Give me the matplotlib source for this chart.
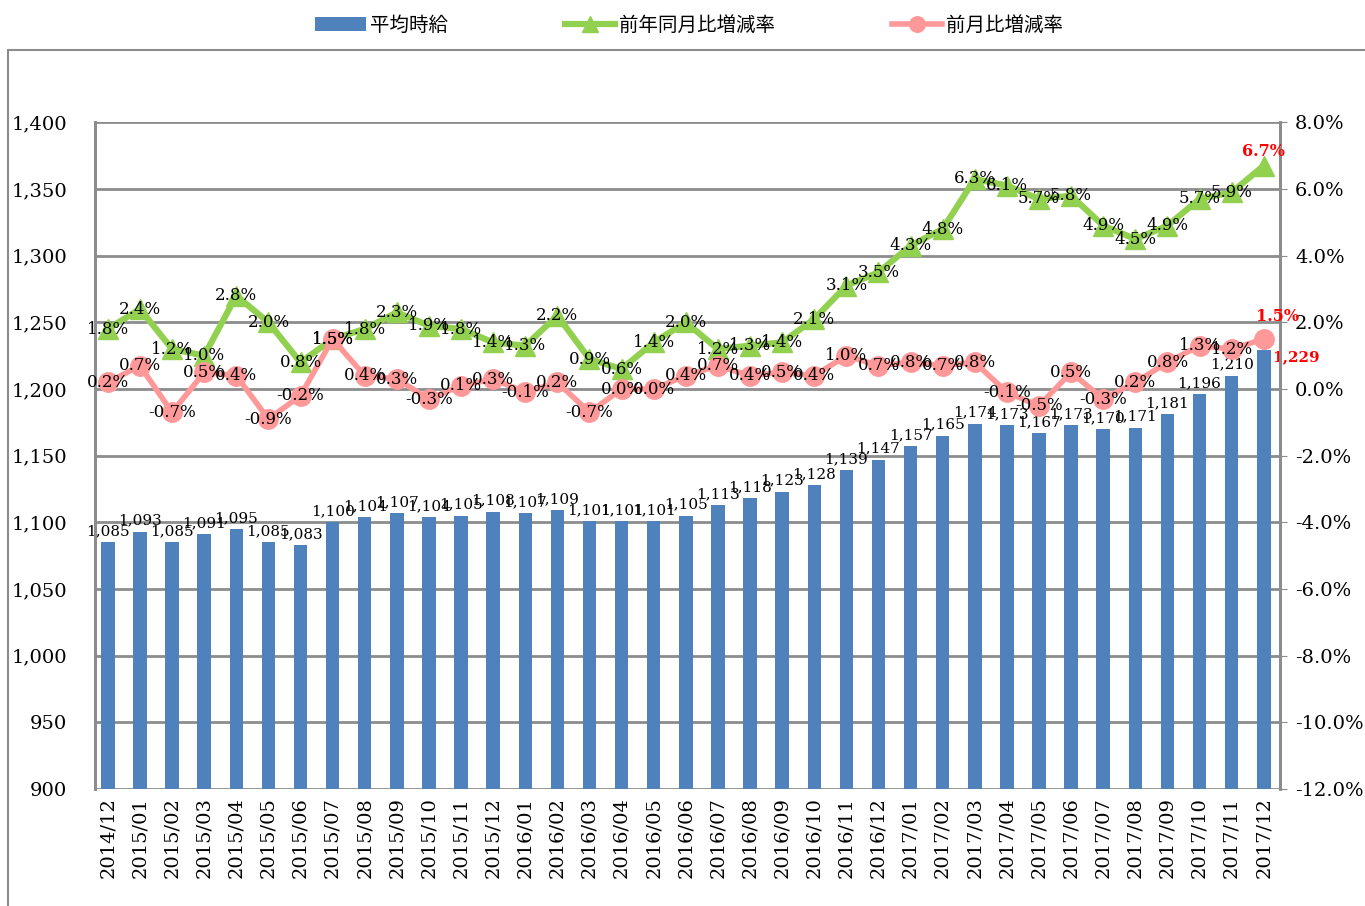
import matplotlib.pyplot as plt
from matplotlib.patches import Rectangle
from matplotlib.ticker import FuncFormatter, MultipleLocator

# data
months = [
    "2014/12", "2015/01", "2015/02", "2015/03", "2015/04", "2015/05", "2015/06",
    "2015/07", "2015/08", "2015/09", "2015/10", "2015/11", "2015/12", "2016/01",
    "2016/02", "2016/03", "2016/04", "2016/05", "2016/06", "2016/07", "2016/08",
    "2016/09", "2016/10", "2016/11", "2016/12", "2017/01", "2017/02", "2017/03",
    "2017/04", "2017/05", "2017/06", "2017/07", "2017/08", "2017/09", "2017/10",
    "2017/11", "2017/12",
]
wage = [
    1085, 1093, 1085, 1091, 1095, 1085, 1083, 1100, 1104, 1107, 1104, 1105, 1108,
    1107, 1109, 1101, 1101, 1101, 1105, 1113, 1118, 1123, 1128, 1139, 1147, 1157,
    1165, 1174, 1173, 1167, 1173, 1170, 1171, 1181, 1196, 1210, 1229,
]
yoy = [
    1.8, 2.4, 1.2, 1.0, 2.8, 2.0, 0.8, 1.5, 1.8, 2.3, 1.9, 1.8, 1.4, 1.3, 2.2,
    0.9, 0.6, 1.4, 2.0, 1.2, 1.3, 1.4, 2.1, 3.1, 3.5, 4.3, 4.8, 6.3, 6.1, 5.7,
    5.8, 4.9, 4.5, 4.9, 5.7, 5.9, 6.7,
]
mom = [
    0.2, 0.7, -0.7, 0.5, 0.4, -0.9, -0.2, 1.5, 0.4, 0.3, -0.3, 0.1, 0.3, -0.1,
    0.2, -0.7, 0.0, 0.0, 0.4, 0.7, 0.4, 0.5, 0.4, 1.0, 0.7, 0.8, 0.7, 0.8, -0.1,
    -0.5, 0.5, -0.3, 0.2, 0.8, 1.3, 1.2, 1.5,
]

BLUE = "#4F81BD"
GREEN = "#92D050"
PINK = "#FF9999"
GRID = "#8C8C8C"
NUM_FONT = ["DejaVu Serif"]
JP_FONT = ["Noto Sans CJK JP", "DejaVu Sans"]

plt.rcParams["font.family"] = NUM_FONT

fig = plt.figure(figsize=(13.65, 9.06), dpi=100)
ax = fig.add_axes([0.0696, 0.129, 0.868, 0.736])
ax2 = ax.twinx()

# outer chart frame
fig.patches.append(Rectangle((0.006, -0.01), 1.0, 0.955, transform=fig.transFigure,
                             fill=False, edgecolor=GRID, linewidth=1.5))

x = list(range(len(months)))
bars = ax.bar(x, wage, width=0.42, color=BLUE, zorder=2, label="平均時給")
ax.set_ylim(900, 1400)
ax.set_xlim(-0.4, len(months) - 0.5)
ax.yaxis.set_major_locator(MultipleLocator(50))
ax.yaxis.set_major_formatter(FuncFormatter(lambda v, p: f"{v:,.0f}"))
ax.grid(axis="y", color=GRID, linewidth=2, zorder=0)
ax.set_axisbelow(True)
ax.set_xticks(x)
ax.set_xticklabels(months, rotation=90, fontsize=14)
ax.tick_params(axis="y", labelsize=14, length=0, pad=20)
ax.tick_params(axis="x", length=0, pad=6)

(l1,) = ax2.plot(x, yoy, color=GREEN, linewidth=4.5, marker="^", markersize=15,
                 zorder=3, label="前年同月比増減率")
(l2,) = ax2.plot(x, mom, color=PINK, linewidth=4, marker="o", markersize=14,
                 zorder=4, label="前月比増減率")
ax2.set_ylim(-12, 8)
ax2.yaxis.set_major_locator(MultipleLocator(2))
ax2.yaxis.set_major_formatter(FuncFormatter(lambda v, p: f"{v:.1f}%"))
ax2.tick_params(axis="y", labelsize=14, length=5, color=GRID, pad=6)

for a in (ax, ax2):
    for side in ("top", "bottom"):
        a.spines[side].set_visible(False)
    a.spines["left"].set_color(GRID)
    a.spines["right"].set_color(GRID)
    a.spines["left"].set_linewidth(2)
    a.spines["right"].set_linewidth(2)

last = len(months) - 1
for i in x:
    if i == last:
        ax.annotate(f"{wage[i]:,}", (i, wage[i]), xytext=(6, -5),
                    textcoords="offset points", ha="left", va="center",
                    fontsize=11, color="red", fontweight="bold", zorder=6)
        ax2.annotate(f"{yoy[i]:.1f}%", (i, yoy[i]), xytext=(0, 4),
                     textcoords="offset points", ha="center", va="bottom",
                     fontsize=11.5, color="red", fontweight="bold", zorder=6)
        ax2.annotate(f"{mom[i]:.1f}%", (i, mom[i]), xytext=(10, 10),
                     textcoords="offset points", ha="center", va="bottom",
                     fontsize=11.5, color="red", fontweight="bold", zorder=6)
        continue
    ax.annotate(f"{wage[i]:,}", (i, wage[i]), xytext=(0, 3),
                textcoords="offset points", ha="center", va="bottom",
                fontsize=11, zorder=6)
    ax2.text(i, yoy[i], f"{yoy[i]:.1f}%", ha="center", va="center",
             fontsize=12, zorder=6)
    ax2.text(i, mom[i], f"{mom[i]:.1f}%", ha="center", va="center",
             fontsize=12, zorder=6)

fig.legend(handles=[bars, l1, l2], loc="center", bbox_to_anchor=(0.505, 0.972),
           ncol=3, frameon=False, prop={"family": JP_FONT, "size": 14},
           columnspacing=6, handlelength=2.6, handletextpad=0.2, markerscale=0.8)

fig.savefig("out.png", dpi=100)
